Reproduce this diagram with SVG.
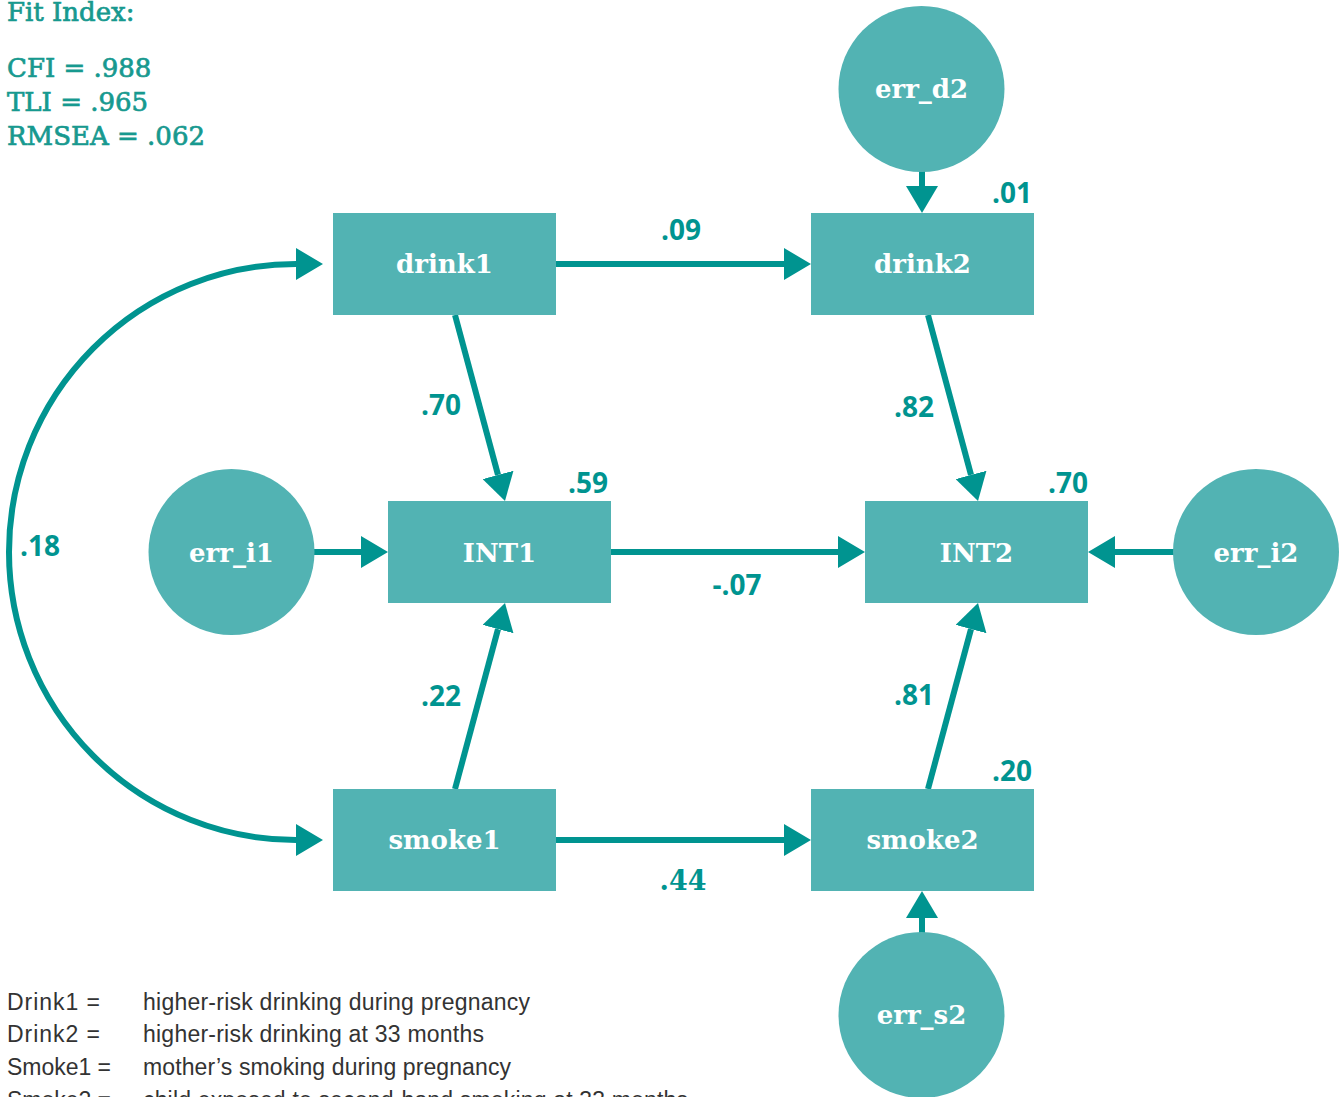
<svg xmlns="http://www.w3.org/2000/svg" width="1340" height="1097" viewBox="0 0 1340 1097">
  <style>
    .box { fill: #52b3b3; }
    .nlabel { font-family: "DejaVu Serif", "Liberation Serif", serif; font-weight: bold; font-size: 26px; fill: #ffffff; text-anchor: middle; }
    .edge { stroke: #009490; stroke-width: 6; fill: none; }
    .coef { font-family: "Open Sans", "Liberation Sans", sans-serif; font-weight: bold; font-size: 28px; fill: #009490; }
    .fit { font-family: "DejaVu Serif", "Liberation Serif", serif; font-size: 26px; fill: #17998f; stroke: #17998f; stroke-width: 0.7; }
    .legend { font-family: "Liberation Sans", Arial, sans-serif; font-size: 23px; fill: #333333; }
  </style>
  <defs>
    <marker id="ah" viewBox="0 -16 27 32" refX="0" refY="0" markerWidth="27" markerHeight="32" markerUnits="userSpaceOnUse" orient="auto">
      <path d="M0,-16 L27,0 L0,16 z" fill="#009490"/>
    </marker>
  </defs>

  <rect width="1340" height="1097" fill="#ffffff"/>

  <!-- fit statistics -->
  <g id="fit-index">
    <text class="fit" x="7" y="21">Fit Index:</text>
    <text class="fit" x="7" y="77">CFI = .988</text>
    <text class="fit" x="7" y="111">TLI = .965</text>
    <text class="fit" x="7" y="145">RMSEA = .062</text>
  </g>

  <!-- paths -->
  <g id="connectors">
    <path class="edge" d="M9,552 A287,288 0 0 1 296,264" marker-end="url(#ah)"/>
    <path class="edge" d="M9,552 A287,288 0 0 0 296,840" marker-end="url(#ah)"/>
    <line class="edge" x1="556" y1="264" x2="784" y2="264" marker-end="url(#ah)"/>
    <line class="edge" x1="922" y1="170" x2="922" y2="186" marker-end="url(#ah)"/>
    <line class="edge" x1="455" y1="315" x2="498" y2="474.9" marker-end="url(#ah)"/>
    <line class="edge" x1="928" y1="315" x2="971" y2="474.9" marker-end="url(#ah)"/>
    <line class="edge" x1="312" y1="552" x2="361" y2="552" marker-end="url(#ah)"/>
    <line class="edge" x1="611" y1="552" x2="838" y2="552" marker-end="url(#ah)"/>
    <line class="edge" x1="1175" y1="552" x2="1115" y2="552" marker-end="url(#ah)"/>
    <line class="edge" x1="455" y1="789" x2="498" y2="629.1" marker-end="url(#ah)"/>
    <line class="edge" x1="928" y1="789" x2="971" y2="629.1" marker-end="url(#ah)"/>
    <line class="edge" x1="556" y1="840" x2="784" y2="840" marker-end="url(#ah)"/>
    <line class="edge" x1="922" y1="934" x2="922" y2="918" marker-end="url(#ah)"/>
  </g>

  <!-- path coefficients -->
  <g id="coefficients">
    <text class="coef" x="681" y="240" text-anchor="middle">.09</text>
    <text class="coef" x="1032" y="203" text-anchor="end">.01</text>
    <text class="coef" x="441" y="415" text-anchor="middle">.70</text>
    <text class="coef" x="914" y="417" text-anchor="middle">.82</text>
    <text class="coef" x="608" y="493" text-anchor="end">.59</text>
    <text class="coef" x="1088" y="493" text-anchor="end">.70</text>
    <text class="coef" x="20" y="556">.18</text>
    <text class="coef" x="737" y="595" text-anchor="middle">-.07</text>
    <text class="coef" x="441" y="706" text-anchor="middle">.22</text>
    <text class="coef" x="914" y="705" text-anchor="middle">.81</text>
    <text class="coef" x="1032" y="781" text-anchor="end">.20</text>
    <text class="coef" x="683" y="890" text-anchor="middle" style="font-family: 'DejaVu Serif', serif; font-size: 27px;">.44</text>
  </g>

  <!-- observed variables -->
  <g id="drink1">
    <rect class="box" x="333" y="213" width="223" height="102"/>
    <text class="nlabel" x="444.5" y="273">drink1</text>
  </g>
  <g id="drink2">
    <rect class="box" x="811" y="213" width="223" height="102"/>
    <text class="nlabel" x="922.5" y="273">drink2</text>
  </g>
  <g id="INT1">
    <rect class="box" x="388" y="501" width="223" height="102"/>
    <text class="nlabel" x="499.5" y="562">INT1</text>
  </g>
  <g id="INT2">
    <rect class="box" x="865" y="501" width="223" height="102"/>
    <text class="nlabel" x="976.5" y="562">INT2</text>
  </g>
  <g id="smoke1">
    <rect class="box" x="333" y="789" width="223" height="102"/>
    <text class="nlabel" x="444.5" y="849">smoke1</text>
  </g>
  <g id="smoke2">
    <rect class="box" x="811" y="789" width="223" height="102"/>
    <text class="nlabel" x="922.5" y="849">smoke2</text>
  </g>

  <!-- error terms -->
  <g id="err_d2">
    <circle class="box" cx="921.5" cy="89" r="83"/>
    <text class="nlabel" x="921.5" y="98">err_d2</text>
  </g>
  <g id="err_i1">
    <circle class="box" cx="231.5" cy="552" r="83"/>
    <text class="nlabel" x="231.5" y="562">err_i1</text>
  </g>
  <g id="err_i2">
    <circle class="box" cx="1256" cy="552" r="83"/>
    <text class="nlabel" x="1256" y="562">err_i2</text>
  </g>
  <g id="err_s2">
    <circle class="box" cx="921.5" cy="1015" r="83"/>
    <text class="nlabel" x="921.5" y="1024">err_s2</text>
  </g>

  <!-- variable key -->
  <g id="legend">
    <text class="legend" x="7" y="1010" textLength="93">Drink1 =</text>
    <text class="legend" x="143" y="1010" textLength="387">higher-risk drinking during pregnancy</text>
    <text class="legend" x="7" y="1042" textLength="93">Drink2 =</text>
    <text class="legend" x="143" y="1042" textLength="341">higher-risk drinking at 33 months</text>
    <text class="legend" x="7" y="1075" textLength="104">Smoke1 =</text>
    <text class="legend" x="143" y="1075" textLength="368">mother’s smoking during pregnancy</text>
    <text class="legend" x="7" y="1108" textLength="104">Smoke2 =</text>
    <text class="legend" x="143" y="1108" textLength="545">child exposed to second-hand smoking at 33 months</text>
  </g>
</svg>
